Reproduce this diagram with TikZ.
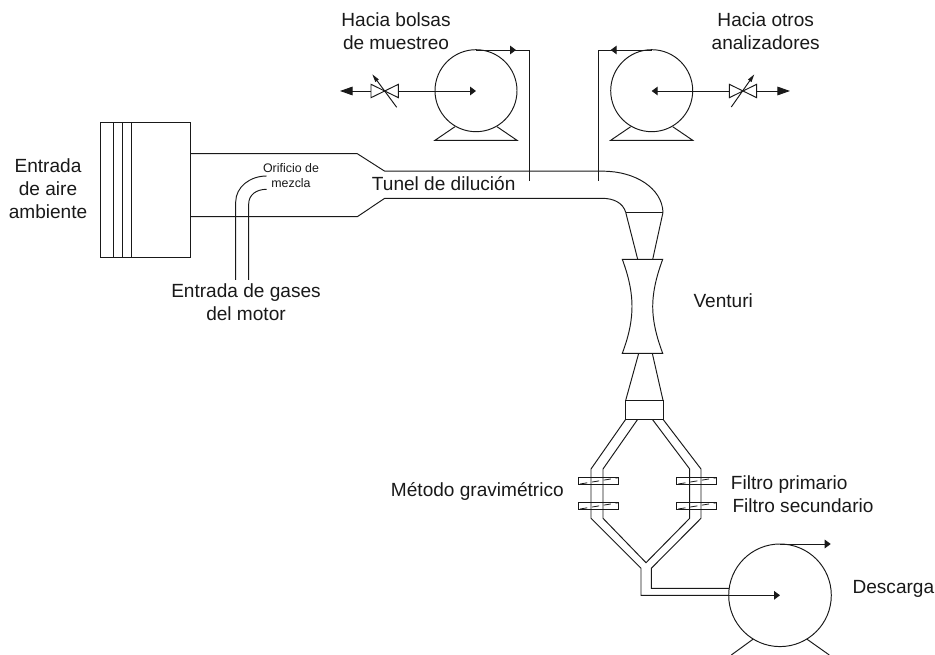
\documentclass[tikz,border=0pt]{standalone}
\usepackage{fontspec}
\setmainfont{Liberation Sans}
\usetikzlibrary{arrows.meta,calc}
\tikzset{
  pipe/.style={draw=black!90,line width=0.72pt},
  flow/.style={pipe,-{Triangle[length=9.5pt,width=6.5pt]}},
  smallflow/.style={pipe,-{Triangle[length=4.5pt,width=6.5pt]}},
  stemflow/.style={pipe,-{Triangle[length=6pt,width=3pt]}},
  lab/.style={font=\fontsize{14.3pt}{17.4pt}\selectfont,align=center,inner sep=0pt,text=black!90,anchor=base},
  tinylab/.style={font=\fontsize{9.3pt}{11.6pt}\selectfont,align=center,inner sep=0pt,text=black!90,anchor=base},
  pumpbody/.style={circle,draw=black!90,line width=0.72pt,inner sep=0pt},
  valvebody/.style={pipe,fill=white},
}
\newcommand{\valvesym}[1]{%
  \draw[valvebody] ($(#1)+(-13.7,-6.7)$) -- ($(#1)+(13.7,6.7)$) -- ($(#1)+(13.7,-6.7)$) -- ($(#1)+(-13.7,6.7)$) -- cycle;
}
\newcommand{\filtersym}[1]{%
  \draw[pipe] (#1) rectangle ++(40.2,7);
  \draw[pipe,line width=0.6pt,dash pattern=on 5.5pt off 3.5pt] ($(#1)+(2,6.7)$) -- ($(#1)+(40,0.5)$);
}
\begin{document}
\begin{tikzpicture}[x=0.75pt,y=-0.75pt]
\useasboundingbox (0,0) rectangle (935,655);
% inlet filter box
\draw[pipe] (100,122.3) rectangle (190.3,257.3);
\draw[pipe] (113.7,122.3) -- (113.7,257.3) (122.7,122.3) -- (122.7,257.3) (131.7,122.3) -- (131.7,257.3);
% tunnel and elbow
\draw[pipe] (190.3,153.7) -- (357.3,153.7) -- (384.7,171.2) -- (603,171.2) .. controls (635,171.2) and (662,188) .. (663,212.3);
\draw[pipe] (190.3,216.7) -- (357.3,216.7) -- (384.7,198.3) -- (601.7,198.3) .. controls (614,198.3) and (623,203) .. (625.7,212.3);
\draw[pipe] (625.7,212.3) -- (663,212.3);
% mixing orifice
\draw[pipe] (235.7,280) -- (235.7,202) .. controls (235.7,187) and (250,176) .. (266.7,176);
\draw[pipe] (248.7,280) -- (248.7,204) .. controls (248.7,195) and (256,189.3) .. (266.7,189.3);
% pump 1
\node[pumpbody,minimum size=82*0.75pt] (pa) at (476,90.7) {};
\draw[pipe] (455,126.7) -- (435,140.3) -- (517,140.3) -- (497,126.7);
\coordinate (pat) at (476,50);
\coordinate (pac) at (476,90.7);
\coordinate (va) at (384.7,91);
\coordinate (aend) at (340,91);
\coordinate (atap) at (529.3,180.7);
\draw[pipe] (pat) -- (529.3,50) -- (atap);
\draw[smallflow] (pat) -- (516,50);
\draw[smallflow] (398.4,91) -- (pac |- va);
\draw[flow] (371,91) -- (aend);
\valvesym{va}
\coordinate (vas) at (396.7,107.3);
\coordinate (vae) at (372.3,74.3);
\draw[stemflow] (vas) -- (vae);
% pump 2
\node[pumpbody,minimum size=82*0.75pt] (pb) at (651.7,90.7) {};
\draw[pipe] (630.7,126.7) -- (610.7,140.3) -- (692.7,140.3) -- (672.7,126.7);
\coordinate (pbt) at (651.7,50);
\coordinate (pbc) at (651.7,90.7);
\coordinate (vb) at (743,91);
\coordinate (bend) at (790,91);
\coordinate (btap) at (598.3,180.7);
\draw[pipe] (pbt) -- (598.3,50) -- (btap);
\draw[smallflow] (pbt) -- (610.7,50);
\draw[smallflow] (729.3,91) -- (pbc |- vb);
\draw[flow] (756.7,91) -- (bend);
\valvesym{vb}
\coordinate (vbs) at (731.3,107);
\coordinate (vbe) at (754.3,74.3);
\draw[stemflow] (vbs) -- (vbe);
% cone, venturi, cone, box
\draw[pipe] (625.7,212.3) -- (637.7,259.3) (663,212.3) -- (652.7,259.3);
\draw[pipe] (622.3,259.3) -- (662.7,259.3) .. controls (655,280) and (652.7,295) .. (652.7,306.5) .. controls (652.7,318) and (655,333) .. (662.7,353.3) -- (622.3,353.3) .. controls (630,333) and (632,318) .. (632,306.5) .. controls (632,295) and (630,280) .. (622.3,259.3) -- cycle;
\draw[pipe] (638.7,353.3) -- (625.7,400.3) (652.3,353.3) -- (663,400.3);
\draw[pipe] (625.7,400.3) rectangle (663,419.3);
% branches
\draw[pipe] (625.7,419.3) -- (591,469) -- (591,518.3) -- (641,568.3) -- (641,595.3) -- (729,595.3);
\draw[pipe] (637.7,419.3) -- (603,469) -- (603,518.3) -- (646,562.7) -- (689.7,518.3) -- (689.7,469) -- (652.3,419.3);
\draw[pipe] (663,419.3) -- (701,469) -- (701,518.3) -- (651.3,568.3) -- (651.3,588.3) -- (729,588.3);
% filters
\coordinate (fa) at (578,477.3);
\coordinate (fb) at (578,502.3);
\coordinate (fc) at (676.2,477.3);
\coordinate (fd) at (676.2,502.3);
\filtersym{fa}
\filtersym{fb}
\filtersym{fc}
\filtersym{fd}
% discharge pump
\node[pumpbody,minimum size=102.6*0.75pt] (pc) at (780,595.3) {};
\coordinate (pct) at (780,544);
\coordinate (pcc) at (780,595.3);
\coordinate (pcend) at (830.7,544);
\draw[smallflow] (pct) -- (pcend);
\draw[smallflow] (729,595.3) -- (pcc);
\draw[pipe] (753.3,639) -- (731.3,655) (806.7,639) -- (829.3,655);
% labels
\node[lab] (l1) at (396,50) {Hacia bolsas\\de muestreo};
\node[lab] (l2) at (765.7,50) {Hacia otros\\analizadores};
\node[lab] (l3) at (48,219) {Entrada\\de aire\\ambiente};
\node[tinylab] (l4) at (291,188) {Orificio de\\mezcla};
\node[lab,anchor=base west] (l5) at (371.7,191) {Tunel de dilución};
\node[lab] (l6) at (246,320.7) {Entrada de gases\\del motor};
\node[lab,anchor=base west] (l7) at (693.3,307.3) {Venturi};
\node[lab,anchor=base west] (l8) at (390.7,496.7) {Método gravimétrico};
\node[lab,anchor=base west] (l9) at (730.7,489.3) {Filtro primario};
\node[lab,anchor=base west] (l10) at (732.3,512.3) {Filtro secundario};
\node[lab,anchor=base west] (l11) at (852.3,593.3) {Descarga};
\end{tikzpicture}
\end{document}
